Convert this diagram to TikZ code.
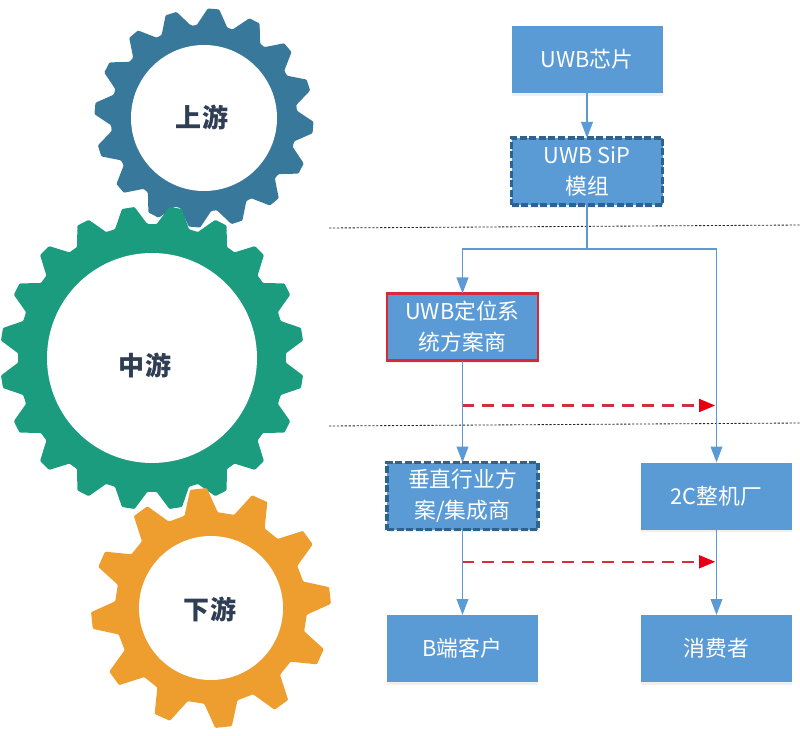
\documentclass[tikz,border=0pt]{standalone}
\usepackage{fontspec}
\usepackage{tikz}
\usetikzlibrary{arrows.meta,shadows}
\newfontfamily\cjk{Noto Sans CJK SC}
\definecolor{boxblue}{HTML}{5B9BD5}
\definecolor{linkblue}{HTML}{5B9BD5}
\definecolor{edgeblue}{HTML}{2E6390}
\definecolor{edgered}{HTML}{D8283C}
\definecolor{flowred}{HTML}{D0303C}
\definecolor{tipred}{HTML}{E60012}
\definecolor{gearblue}{HTML}{38789A}
\definecolor{geargreen}{HTML}{1C9C7E}
\definecolor{gearorange}{HTML}{EE9E2E}
\definecolor{labeldark}{HTML}{2F3E55}
\tikzstyle{box}=[rectangle, fill=boxblue, text=white, align=center, minimum width=3.775cm, minimum height=1.675cm, inner sep=0pt, outer sep=0pt, font=\cjk\fontsize{15.5}{22}\selectfont, drop shadow={shadow xshift=0pt, shadow yshift=-2pt, opacity=0.12}]
\tikzstyle{dashbox}=[box, draw=edgeblue, line width=2.3pt, dash pattern=on 5pt off 1.8pt]
\tikzstyle{redbox}=[box, draw=edgered, line width=1.5pt]
\tikzstyle{hub}=[circle, fill=white, inner sep=0pt, outer sep=0pt]
\tikzstyle{gearlabel}=[text=labeldark, inner sep=0pt, font=\cjk\bfseries\fontsize{18.5}{22}\selectfont]
\tikzstyle{link}=[color=linkblue, line width=1.4pt, >={Triangle[length=4mm, width=2.9mm]}]
\tikzstyle{flow}=[color=flowred, line width=1.5pt, dash pattern=on 8.5pt off 5.7pt, >={Triangle[length=4mm, width=3.2mm, color=tipred]}]
\tikzstyle{border}=[draw=black!85, line width=0.6pt, dash pattern=on 1.6pt off 1.2pt]
% colour, centre, teeth, first tip angle, root radius, tip radius, base half angle, top half angle
\newcommand{\gearwheel}[8]{
	\fill [#1, shift={(#2)}, rounded corners=0.7pt] (#4+360/#3-#7:#5)
		\foreach \k [evaluate=\k as \a using #4+\k*360/#3] in {1,...,#3} {
			-- (\a-#7:#5) -- (\a-#8:#6) -- (\a+#8:#6) -- (\a+#7:#5)
		} -- cycle;
}

\begin{document}
\begin{tikzpicture}
	\useasboundingbox (0, 0) rectangle (20, 18.375);
	\begin{scope}
		\gearwheel{gearblue}{5.1, 15.425}{16}{85}{2.33}{2.74}{9.5}{3}
		\node (uphub) at (5.1, 15.425)[hub, minimum size=3.65cm] {};
		\node (uptext) at (5.05, 15.45)[gearlabel] {上游};
		\gearwheel{geargreen}{3.8, 9.425}{20}{81}{3.35}{3.8}{7}{2.4}
		\node (midhub) at (3.8, 9.425)[hub, minimum size=5.25cm] {};
		\node (midtext) at (3.625, 9.25)[gearlabel] {中游};
		\gearwheel{gearorange}{5.275, 3.175}{12}{96}{2.4}{3}{10}{4}
		\node (downhub) at (5.275, 3.175)[hub, minimum size=3.6cm] {};
		\node (downtext) at (5.25, 3.15)[gearlabel] {下游};
	\end{scope}
	\begin{scope}
		\coordinate (upleft) at (8.225, 12.675);
		\coordinate (upright) at (20, 12.75);
		\coordinate (downleft) at (8.225, 7.725);
		\coordinate (downright) at (20, 7.8);
		\path [border] (upleft) edge (upright);
		\path [border] (downleft) edge (downright);
	\end{scope}
	\begin{scope}
		\node (chip) at (14.675, 16.8875)[box] {UWB芯片};
		\node (sip) at (14.675, 14.0875)[dashbox] {UWB SiP\\模组};
		\node (locate) at (11.5625, 10.2)[redbox] {UWB定位系\\统方案商};
		\node (vertical) at (11.5625, 5.975)[dashbox] {垂直行业方\\案/集成商};
		\node (maker) at (17.9125, 5.975)[box] {2C整机厂};
		\node (client) at (11.5625, 2.1625)[box] {B端客户};
		\node (consumer) at (17.9125, 2.1625)[box] {消费者};
	\end{scope}
	\begin{scope}
		\coordinate (fork) at (14.675, 12.15);
		\path [link] (chip) edge [->] (sip);
		\path [link] (sip) edge [-] (fork);
		\draw [link, ->] (fork) -| (locate);
		\draw [link, ->] (fork) -| (maker);
		\path [link] (locate) edge [->] (vertical);
		\path [link] (vertical) edge [->] (client);
		\path [link] (maker) edge [->] (consumer);
	\end{scope}
	\begin{scope}
		\coordinate (flowa) at (11.5625, 8.2375);
		\coordinate (flowb) at (17.88, 8.2375);
		\coordinate (flowc) at (11.5625, 4.33);
		\coordinate (flowd) at (17.88, 4.33);
		\path [flow] (flowa) edge [->] (flowb);
		\path [flow] (flowc) edge [->] (flowd);
	\end{scope}
\end{tikzpicture}
\end{document}
